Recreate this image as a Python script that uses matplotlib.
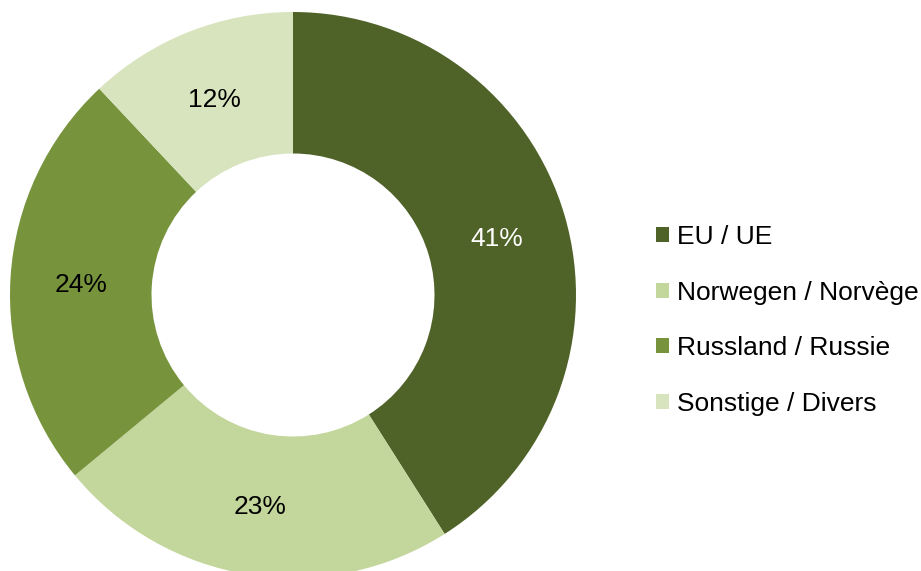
import matplotlib.pyplot as plt
from matplotlib.patches import Patch
import numpy as np

plt.rcParams['font.family'] = ['Liberation Sans', 'DejaVu Sans']

labels = ['EU / UE', 'Norwegen / Norvège', 'Russland / Russie', 'Sonstige / Divers']
values = [41, 23, 24, 12]
colors = ['#4F6228', '#C3D69B', '#77933C', '#D7E4BD']
text_colors = ['white', 'black', 'black', 'black']

fig = plt.figure(figsize=(9.21, 5.71), dpi=100)
# pie area in pixels: x 10..576, y(top) 12..578
ax = fig.add_axes([10 / 921, (571 - 578) / 571, 566 / 921, 566 / 571])
wedges, texts = ax.pie(values, colors=colors, startangle=90, counterclock=False,
                       radius=1.0, wedgeprops=dict(width=0.5, linewidth=0))
ax.set_xlim(-1, 1)
ax.set_ylim(-1, 1)
ax.set_aspect('equal')
ax.axis('off')

# percentage labels at the middle of the ring
for w, v, tc in zip(wedges, values, text_colors):
    ang = np.deg2rad((w.theta1 + w.theta2) / 2)
    r = 0.75
    ax.text(r * np.cos(ang), r * np.sin(ang) - 0.01, f'{v}%', ha='center', va='center',
            fontsize=19, color=tc)

handles = [Patch(facecolor=c, edgecolor='none') for c in colors]
fig.legend(handles, labels, loc='upper left', bbox_to_anchor=(656 / 921, 1 - 225 / 571),
           frameon=False, fontsize=19, handlelength=0.5, handleheight=0.5,
           handletextpad=0.3, labelspacing=1.2, borderaxespad=0, borderpad=0)

fig.savefig('out.png', dpi=100)
